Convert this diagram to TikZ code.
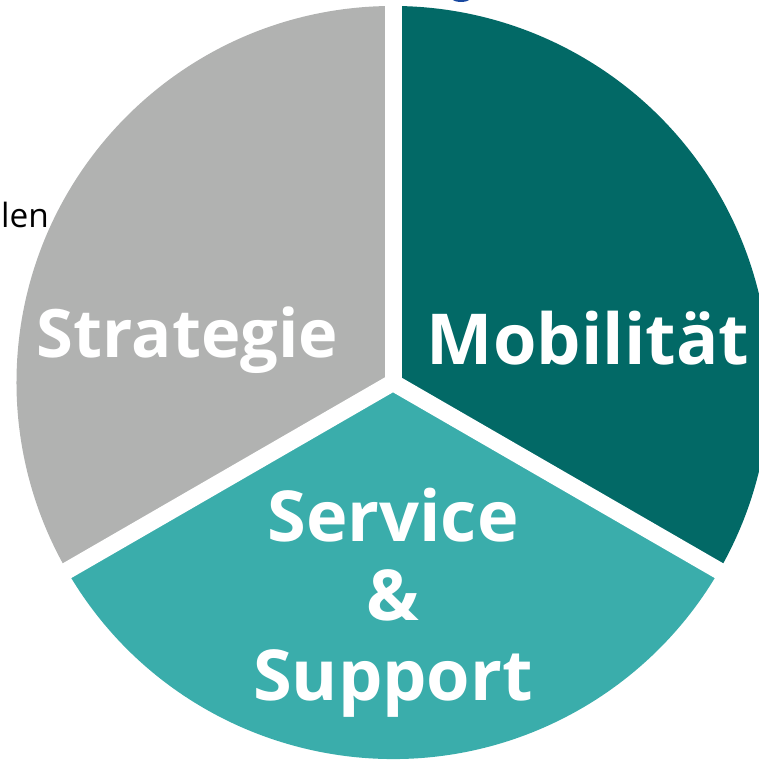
\documentclass[tikz,border=0pt]{standalone}
\usepackage{fontspec}
\setmainfont{Open Sans}
\definecolor{stratgray}{RGB}{177,178,177}
\definecolor{mobteal}{RGB}{2,105,102}
\definecolor{servteal}{RGB}{58,173,171}
\definecolor{headblue}{RGB}{24,72,160}
\tikzset{
  sectorlabel/.style={text=white, font=\bfseries, inner sep=0pt},
}
\begin{document}
\begin{tikzpicture}
    \useasboundingbox (-3.93,-3.775) rectangle (3.65,3.825);
\fill[stratgray] (0,0)--(90:3.765) arc[start angle=90, end angle=210, radius=3.765]--cycle;
\fill[mobteal] (0,0)--(-30:3.765) arc[start angle=-30, end angle=90, radius=3.765]--cycle;
\fill[servteal] (0,0)--(210:3.765) arc[start angle=210, end angle=330, radius=3.765]--cycle;

\foreach \a in {90,210,330}
    \draw[white, line width=0.17cm] (0,0)--(\a:3.9);

\node (strategie) at (-2.055,.245) [sectorlabel, anchor=base, font=\bfseries\fontsize{19}{22}\selectfont] {Strategie};
\node (mobilitaet) at (1.95,.175) [sectorlabel, anchor=base, font=\bfseries\fontsize{20}{23}\selectfont] {Mobilität};
\node (service) at (0,-2.2) [sectorlabel, align=center, font=\bfseries\fontsize{20}{22.6}\selectfont] {Service\\\&\\Support};

\node (len) at (-3.925,1.545) [anchor=base west, inner sep=0pt, font=\fontsize{9.5}{12}\selectfont] {len};
\fill[headblue] (.68,3.84) ellipse [x radius=.09, y radius=.035];

\end{tikzpicture}
\end{document}
